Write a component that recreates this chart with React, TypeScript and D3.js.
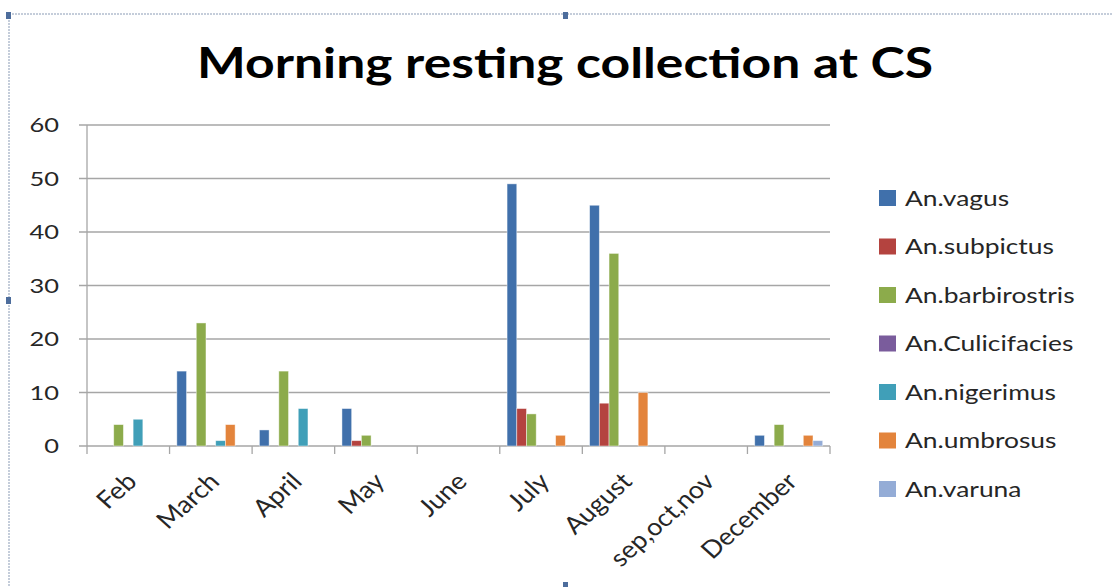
import React from 'react';
import * as d3 from 'd3';

const categories = ['Feb', 'March', 'April', 'May', 'June', 'July', 'August', 'sep,oct,nov', 'December'];
const seriesNames = ['An.vagus', 'An.subpictus', 'An.barbirostris', 'An.Culicifacies', 'An.nigerimus', 'An.umbrosus', 'An.varuna'];
const seriesColors = ['#4070ab', '#b4433f', '#8cab4b', '#7a5c9c', '#409fb8', '#e3843c', '#94acd6'];

// one array per species, in category order
const vagus = [0, 14, 3, 7, 0, 49, 45, 0, 2];
const subpictus = [0, 0, 0, 1, 0, 7, 8, 0, 0];
const barbirostris = [4, 23, 14, 2, 0, 6, 36, 0, 4];
const culicifacies = [0, 0, 0, 0, 0, 0, 0, 0, 0];
const nigerimus = [5, 1, 7, 0, 0, 0, 0, 0, 0];
const umbrosus = [0, 4, 0, 0, 0, 2, 10, 0, 2];
const varuna = [0, 0, 0, 0, 0, 0, 0, 0, 1];

const seriesValues = [vagus, subpictus, barbirostris, culicifacies, nigerimus, umbrosus, varuna];
const yTicks = [0, 10, 20, 30, 40, 50, 60];

const W = 1113;
const H = 587;
const FONT = 'Lato, "Open Sans", sans-serif';
// the source picture is stretched sideways, so text is widened to match
const SX = 1.27;

export default function App() {
  const x = d3.scaleBand<string>().domain(categories).range([87, 830]).paddingInner(0).paddingOuter(0);
  const xs = d3.scaleBand<string>().domain(seriesNames).range([0, x.bandwidth()]).paddingInner(0).paddingOuter(0.75);
  const y = d3.scaleLinear().domain([0, 60]).range([446, 125]);

  const edges = categories.map(c => x(c) as number).concat([830]);

  return (
    <svg width={W} height={H} style={{ position: 'absolute', left: 0, top: 0, background: '#fff' }} fontFamily={FONT}>
      {/* selection frame */}
      <line x1={9} x2={W} y1={14} y2={14} stroke="#8a9bb5" strokeDasharray="2,1" />
      <line x1={9} x2={9} y1={14} y2={H} stroke="#8a9bb5" strokeDasharray="2,1" />
      <rect x={6} y={12} width={5} height={7} fill="#4d6d9c" />
      <rect x={563} y={12} width={5} height={7} fill="#4d6d9c" />
      <rect x={6} y={297} width={5} height={7} fill="#4d6d9c" />
      <rect x={563} y={582} width={5} height={7} fill="#4d6d9c" />

      <text transform={`translate(565,78) scale(1.23,1)`} textAnchor="middle" fontSize={42} fontWeight="bold" fill="#000">
        Morning resting collection at CS
      </text>

      {/* gridlines and y axis */}
      {yTicks.map(t => (
        <g key={t}>
          <line x1={79} x2={830} y1={y(t)} y2={y(t)} stroke="#a6a6a6" strokeWidth={1.3} />
          <text transform={`translate(59,${y(t)}) scale(${SX},1)`} dy="0.35em" textAnchor="end" fontSize={20} fill="#262626">{t}</text>
        </g>
      ))}
      <line x1={87} x2={87} y1={y(60)} y2={y(0)} stroke="#a6a6a6" strokeWidth={1.3} />

      {/* x ticks */}
      {edges.map((e, i) => (
        <line key={i} x1={e} x2={e} y1={446} y2={454} stroke="#a6a6a6" strokeWidth={1.3} />
      ))}

      {/* bars */}
      {seriesValues.map((vals, si) => (
        <g key={si}>
          {vals.map((v, ci) => v > 0 ? (
            <rect
              key={ci}
              x={(x(categories[ci]) as number) + (xs(seriesNames[si]) as number)}
              y={y(v)}
              width={xs.bandwidth()}
              height={y(0) - y(v)}
              fill={seriesColors[si]}
              stroke="rgba(255,255,255,0.55)"
              strokeWidth={0.8}
            />
          ) : null)}
        </g>
      ))}

      {/* x labels */}
      {categories.map(c => {
        const cx = (x(c) as number) + x.bandwidth() / 2 + 10;
        const cy = 483;
        return (
          <text key={c} transform={`translate(${cx},${cy}) scale(1.12,1) rotate(-45)`} textAnchor="end" fontSize={24} fill="#262626">{c}</text>
        );
      })}

      {/* legend */}
      {seriesNames.map((s, i) => {
        const ly = 198 + i * 48.5;
        return (
          <g key={s}>
            <rect x={879} y={ly - 8} width={17} height={16} fill={seriesColors[i]} />
            <text transform={`translate(905,${ly}) scale(1.2,1)`} dy="0.35em" fontSize={22} fill="#262626">{s}</text>
          </g>
        );
      })}
    </svg>
  );
}
